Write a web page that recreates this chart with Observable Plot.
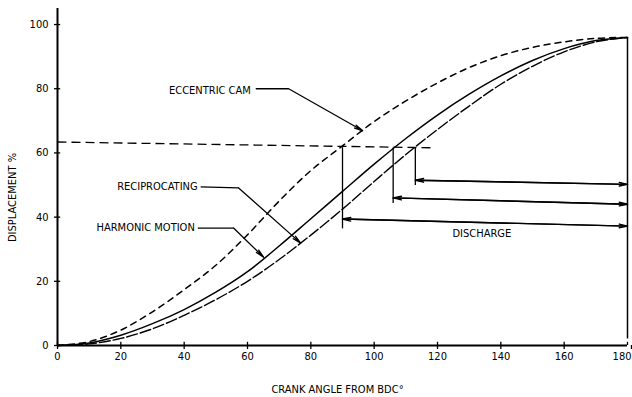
<!DOCTYPE html>
<html><head><meta charset="utf-8">
<script src="https://cdn.jsdelivr.net/npm/d3@7"></script>
<script src="https://cdn.jsdelivr.net/npm/@observablehq/plot@0.6"></script>
<style>body{margin:0;background:#fff}</style>
</head><body><div id="chart"></div>
<script>
// Crank angle from BDC (degrees)
const angles = [0,10,20,30,40,50,60,70,80,90,100,110,120,130,140,150,160,170,180];
// Displacement % for each motion
const eccentricCam  = [0,1.2,4.8,10.5,17.4,25,34.5,45,54.5,62.2,69.8,76.2,81.8,86.6,90.3,92.9,94.6,95.7,96];
const harmonic      = [0,0.8,3.2,6.8,11.2,16.6,23,31,39.5,48,56.5,64.5,71.8,78.3,84,88.8,92.5,95,96];
const reciprocating = [0,0.5,2.2,5.2,9.4,14.3,20,26.8,34.4,42.5,51.1,59.5,67.3,74.6,81.4,87,91.5,94.6,96];

const xTicks = [0,20,40,60,80,100,120,140,160,180];
const yTicks = [0,20,40,60,80,100];

// annotation labels (data units)
const labelText = ["ECCENTRIC CAM","RECIPROCATING","HARMONIC MOTION"];
const labelX = [62, 45.2, 44.3];
const labelY = [79.6, 49.4, 36.7];
// leader lines: horizontal part then arrow
const leaderX1 = [62.6, 45.2, 44.3];
const leaderX2 = [73, 57.2, 55.6];
const leaderY1 = [80, 49.4, 36.6];
const leaderY2 = [80, 49.1, 36.6];
const arrowTipX = [96.4, 76.8, 65.1];
const arrowTipY = [66.9, 31.9, 27.5];

// discharge start angles and arrow levels
const dischargeStart = [113, 106, 90];
const dischargeYLeft = [51.5, 46, 39.4];
const dischargeYRight = [50.2, 44, 37.2];
const dischargeVTop = [61.5, 61.7, 61.8];
const dischargeVBottom = [50, 44.4, 36.5];

// constant displacement reference line
const refLineX = [0, 119];
const refLineY = [63.4, 61.6];

const curveRows = (vals, name) => angles.map((a, i) => ({a, v: vals[i], name}));
const cam = curveRows(eccentricCam, "ECCENTRIC CAM");
const harm = curveRows(harmonic, "HARMONIC MOTION");
const recip = curveRows(reciprocating, "RECIPROCATING");

const leaders = labelText.map((t, i) => ({t, x: labelX[i], y: labelY[i], x1: leaderX1[i], x2: leaderX2[i], y1: leaderY1[i], y2: leaderY2[i], tx: arrowTipX[i], ty: arrowTipY[i]}));
const discharges = dischargeStart.map((s, i) => ({s, yl: dischargeYLeft[i], yr: dischargeYRight[i], vt: dischargeVTop[i], vb: dischargeVBottom[i]}));

const font = "DejaVu Sans Condensed";
const chart = Plot.plot({
  width: 632, height: 397,
  marginLeft: 57, marginRight: 5, marginTop: 8, marginBottom: 52,
  style: {fontFamily: font, fontSize: "11px", background: "white", color: "black", overflow: "visible"},
  x: {domain: [0, 180]},
  y: {domain: [0, 105]},
  marks: [
    Plot.axisX({ticks: xTicks.slice(0, -1), tickSize: 4, tickPadding: 3, label: null, stroke: "black", strokeWidth: 1.3}),
    Plot.axisX({ticks: xTicks.slice(-1), tickSize: 4, tickPadding: 3, label: null, textAnchor: "end", dx: 4, stroke: "black", strokeWidth: 1.3}),
    Plot.axisY({ticks: yTicks, tickSize: 3, tickPadding: 6, label: null, stroke: "black", strokeWidth: 1.3}),
    Plot.ruleX(xTicks, {y1: 0, y2: 1, stroke: "black", strokeWidth: 1.3}),
    Plot.ruleY(yTicks, {x1: 0, x2: 1, stroke: "black", strokeWidth: 1.3}),
    Plot.ruleY([0], {stroke: "black", strokeWidth: 1.8}),
    Plot.ruleX([0], {y1: 0, y2: 105, stroke: "black", strokeWidth: 2}),
    // curves
    Plot.line(cam, {x: "a", y: "v", curve: "catmull-rom", stroke: "black", strokeWidth: 1.5, strokeDasharray: "6,5"}),
    Plot.line(harm, {x: "a", y: "v", curve: "catmull-rom", stroke: "black", strokeWidth: 1.5}),
    Plot.line(recip, {x: "a", y: "v", curve: "catmull-rom", stroke: "black", strokeWidth: 1.4, strokeDasharray: "11,3"}),
    // reference dashed line
    Plot.link([0], {x1: () => refLineX[0], x2: () => refLineX[1], y1: () => refLineY[0], y2: () => refLineY[1], stroke: "black", strokeWidth: 1.3, strokeDasharray: "9,5"}),
    // right vertical line at 180
    Plot.ruleX([180], {y1: 2, y2: 96, stroke: "black", strokeWidth: 1.5}),
    // discharge verticals and arrows
    Plot.link(discharges, {x1: "s", x2: "s", y1: "vt", y2: "vb", stroke: "black", strokeWidth: 1.3}),
    Plot.arrow(discharges, {x1: "s", y1: "yl", x2: () => 180, y2: "yr", stroke: "black", strokeWidth: 1.4, headLength: 9, headAngle: 25}),
    Plot.arrow(discharges, {x1: () => 180, y1: "yr", x2: "s", y2: "yl", stroke: "black", strokeWidth: 1.4, headLength: 9, headAngle: 25}),
    Plot.text(["DISCHARGE"], {x: () => 134, y: () => 34.9, textAnchor: "middle"}),
    // label leaders
    Plot.link(leaders, {x1: "x1", x2: "x2", y1: "y1", y2: "y2", stroke: "black", strokeWidth: 1.3}),
    Plot.arrow(leaders, {x1: "x2", y1: "y2", x2: "tx", y2: "ty", stroke: "black", strokeWidth: 1.3, headLength: 10, headAngle: 22}),
    Plot.text(leaders, {x: "x", y: "y", text: "t", textAnchor: "end", dx: -3}),
    // axis titles
    Plot.text(["CRANK ANGLE FROM BDC°"], {frameAnchor: "bottom", textAnchor: "middle", dx: -5, dy: 47}),
    Plot.text(["DISPLACEMENT %"], {frameAnchor: "left", textAnchor: "middle", rotate: -90, dx: -45, dy: 20.5})
  ]
});
document.getElementById("chart").append(chart);
</script>
</body></html>
